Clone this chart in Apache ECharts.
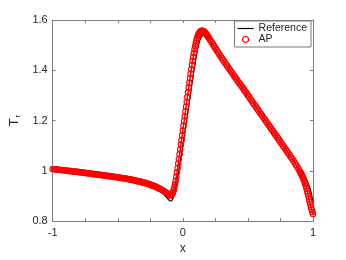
<!DOCTYPE html>
<html>
<head>
<meta charset="utf-8">
<script src="https://cdn.jsdelivr.net/npm/echarts@6/dist/echarts.min.js"></script>
<style>
  html, body { margin: 0; padding: 0; background: #fff; }
  #chart { width: 346px; height: 260px; }
</style>
</head>
<body>
<div id="chart"></div>
<script>
// Reference solution (black line)
const refX = [-1, -0.9, -0.8, -0.7, -0.6, -0.5, -0.4, -0.3, -0.25, -0.2, -0.16, -0.13, -0.11, -0.1, -0.09, -0.08,
  -0.07, -0.06, -0.05, -0.04, -0.03, -0.02, -0.01, 0, 0.02, 0.04, 0.06, 0.08, 0.1, 0.12, 0.14, 0.16, 0.18, 0.2,
  0.25, 0.3, 0.35, 0.4, 0.45, 0.5, 0.55, 0.6, 0.65, 0.7, 0.75, 0.8, 0.85, 0.9, 0.92, 0.94, 0.96, 0.98, 0.99, 1];
const refY = [1.007, 1.001, 0.995, 0.988, 0.981, 0.974, 0.964, 0.951, 0.942, 0.929, 0.913, 0.897, 0.886, 0.881, 0.880, 0.885,
  0.899, 0.920, 0.945, 0.975, 1.005, 1.037, 1.07, 1.10, 1.17, 1.24, 1.31, 1.38, 1.445, 1.50, 1.530, 1.540, 1.536, 1.525,
  1.486, 1.447, 1.41, 1.372, 1.336, 1.30, 1.263, 1.225, 1.188, 1.15, 1.114, 1.077, 1.04, 1.0, 0.986, 0.971, 0.955, 0.925, 0.903, 0.877];

// AP solution (red circles), read in four stretches of even x spacing
const apLeftStart = -1, apLeftStep = 0.01;
const apLeftY = [1.007, 1.006, 1.006, 1.005, 1.005, 1.004, 1.003, 1.003, 1.002, 1.002,
  1.001, 1.000, 1.000, 0.999, 0.999, 0.998, 0.997, 0.997, 0.996, 0.996,
  0.995, 0.994, 0.994, 0.993, 0.992, 0.992, 0.991, 0.990, 0.990, 0.989,
  0.988, 0.987, 0.987, 0.986, 0.985, 0.985, 0.984, 0.983, 0.983, 0.982,
  0.981, 0.980, 0.980, 0.979, 0.978, 0.978, 0.977, 0.976, 0.975, 0.975,
  0.974, 0.973, 0.972, 0.971, 0.970, 0.970, 0.969, 0.968, 0.967, 0.966,
  0.965, 0.964, 0.963, 0.962, 0.961, 0.959, 0.958, 0.957, 0.956, 0.954,
  0.953, 0.952, 0.950, 0.948, 0.947, 0.945, 0.943, 0.941, 0.939, 0.937,
  0.934, 0.932, 0.929, 0.927, 0.924, 0.921, 0.918, 0.914, 0.911, 0.907,
  0.903];
const apRiseStart = -0.095, apRiseStep = 0.005;
const apRiseY = [0.902, 0.903, 0.906, 0.910, 0.916, 0.924, 0.934, 0.946, 0.960, 0.976,
  0.993, 1.011, 1.029, 1.047, 1.066, 1.085, 1.104, 1.122, 1.141, 1.160,
  1.179, 1.198, 1.217, 1.236, 1.255, 1.274, 1.293, 1.312, 1.331, 1.350,
  1.368, 1.386, 1.404, 1.421, 1.438, 1.454, 1.469, 1.483, 1.496, 1.508,
  1.519, 1.528, 1.536, 1.542, 1.547, 1.551, 1.554, 1.556, 1.557, 1.557,
  1.556, 1.555, 1.553, 1.550, 1.547, 1.544, 1.540, 1.536, 1.532, 1.528];
const apFallStart = 0.21, apFallStep = 0.01;
const apFallY = [1.520, 1.512, 1.504, 1.496, 1.488, 1.480, 1.472, 1.464, 1.456, 1.448,
  1.440, 1.433, 1.425, 1.418, 1.410, 1.403, 1.395, 1.388, 1.380, 1.373,
  1.366, 1.358, 1.351, 1.344, 1.337, 1.330, 1.322, 1.315, 1.308, 1.300,
  1.293, 1.285, 1.278, 1.270, 1.263, 1.256, 1.248, 1.241, 1.233, 1.226,
  1.219, 1.211, 1.204, 1.196, 1.189, 1.181, 1.174, 1.166, 1.159, 1.151,
  1.144, 1.137, 1.130, 1.122, 1.115, 1.108, 1.100, 1.093, 1.085, 1.078,
  1.070, 1.063, 1.055, 1.048, 1.040, 1.032, 1.023, 1.015, 1.006, 0.997];
const apEndStart = 0.905, apEndStep = 0.005;
const apEndY = [0.992, 0.987, 0.982, 0.976, 0.970, 0.964, 0.957, 0.949, 0.940, 0.930,
  0.920, 0.910, 0.899, 0.888, 0.877, 0.866, 0.855, 0.845, 0.836, 0.828];

const xTicks = [-1, 0, 1];
const yTicks = ['0.8', '1', '1.2', '1.4', '1.6'];

function stretch(start, step, ys) {
  return ys.map((y, i) => [+(start + i * step).toFixed(4), y]);
}
const refData = refX.map((x, i) => [x, refY[i]]);
const apData = [].concat(
  stretch(apLeftStart, apLeftStep, apLeftY),
  stretch(apRiseStart, apRiseStep, apRiseY),
  stretch(apFallStart, apFallStep, apFallY),
  stretch(apEndStart, apEndStep, apEndY)
);

const txt = '#262626';
const axisCol = '#7f7f7f';
const font = 'Liberation Sans';

const chart = echarts.init(document.getElementById('chart'));
const frameX = (pos, labels) => ({
  type: 'value', position: pos, min: -1, max: 1, interval: 0.25,
  axisLine: { show: true, onZero: false, lineStyle: { color: axisCol, width: 1 } },
  axisTick: { show: true, inside: true, length: 3, lineStyle: { color: axisCol } },
  splitLine: { show: false },
  axisLabel: {
    show: labels, color: txt, fontSize: 11, fontFamily: font, margin: 6,
    formatter: v => (xTicks.indexOf(Math.round(v * 100) / 100) >= 0 ? String(Math.round(v)) : '')
  }
});
const frameY = (pos, labels) => ({
  type: 'value', position: pos, min: 0.8, max: 1.6, interval: 0.2,
  axisLine: { show: true, onZero: false, lineStyle: { color: axisCol, width: 1 } },
  axisTick: { show: true, inside: true, length: 3, lineStyle: { color: axisCol } },
  splitLine: { show: false },
  axisLabel: {
    show: labels, color: txt, fontSize: 11, fontFamily: font, margin: 5,
    formatter: v => yTicks[Math.round((v - 0.8) / 0.2)]
  }
});

const xBottom = Object.assign(frameX('bottom', true), {
  name: 'x', nameLocation: 'middle', nameGap: 20,
  nameTextStyle: { color: txt, fontSize: 12, fontFamily: font }
});
const yLeft = Object.assign(frameY('left', true), {
  name: '{t|T}{s|r}', nameLocation: 'middle', nameGap: 28,
  nameTextStyle: {
    color: txt, fontFamily: font,
    rich: {
      t: { fontSize: 13, color: txt, fontFamily: font, lineHeight: 14 },
      s: { fontSize: 8, color: txt, fontFamily: font, verticalAlign: 'bottom', lineHeight: 8, padding: [0, 0, 0, 1] }
    }
  }
});

chart.setOption({
  animation: false,
  backgroundColor: '#fff',
  grid: { left: 45, right: 33, top: 20, bottom: 36 },
  legend: {
    orient: 'vertical', right: 35, top: 21,
    padding: [2, 4, 2, 3], itemGap: 0, itemWidth: 16, itemHeight: 6,
    backgroundColor: '#fff', borderColor: '#777', borderWidth: 1,
    textStyle: { color: txt, fontSize: 10.5, fontFamily: font },
    data: [
      { name: 'Reference', icon: 'path://M0,0h16v1.2h-16z', itemStyle: { color: '#000' } },
      { name: 'AP', icon: 'circle', itemStyle: { color: 'transparent', borderColor: '#ff0000', borderWidth: 1.2 } }
    ]
  },
  xAxis: [xBottom, frameX('top', false)],
  yAxis: [yLeft, frameY('right', false)],
  series: [
    {
      name: 'Reference', type: 'line', data: refData, smooth: 0.3,
      symbol: 'none', showSymbol: false,
      lineStyle: { color: '#000', width: 1.2 },
      itemStyle: { color: '#000' }, z: 2
    },
    {
      name: 'AP', type: 'line', data: apData,
      symbol: 'circle', symbolSize: 5.5, showSymbol: true, showAllSymbol: true, sampling: 'none',
      lineStyle: { color: '#ff0000', width: 1.5 },
      itemStyle: { color: 'transparent', borderColor: '#ff0000', borderWidth: 1.1 }, z: 3
    }
  ]
});
</script>
</body>
</html>
